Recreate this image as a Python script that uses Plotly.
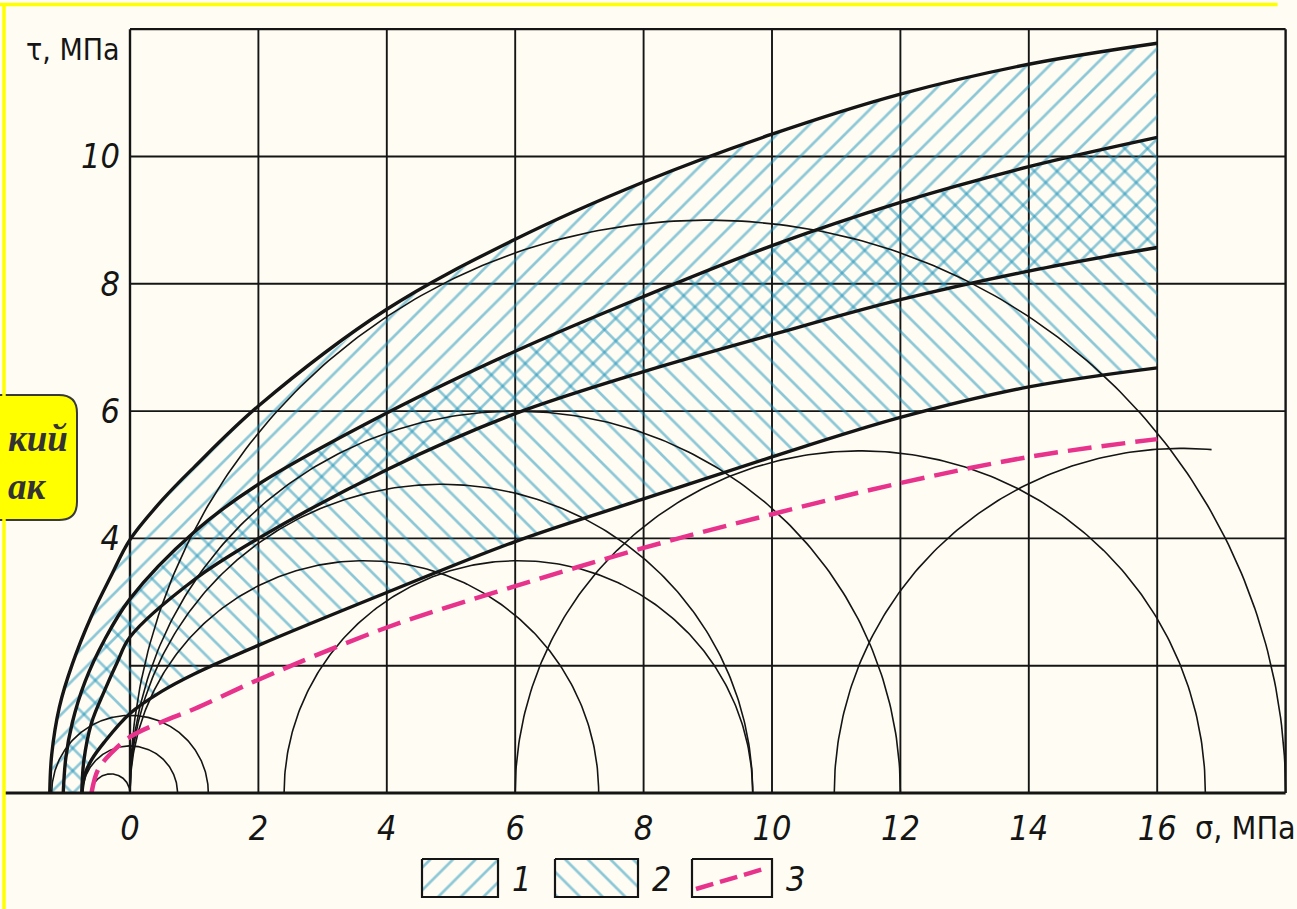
import numpy as np
import plotly.graph_objects as go

# ---------------- data ----------------
# Envelope curves (thick black), sigma (MPa) vs tau (MPa)
env1_x = [-1.25, -1.22, -1.1, -0.9, -0.6, -0.3, 0, 0.5, 1, 2, 4, 6, 8, 10, 12, 14, 16]
env1_y = [0, 0.6, 1.35, 2.02, 2.78, 3.4, 3.98, 4.6, 5.12, 6.08, 7.6, 8.7, 9.6, 10.35, 10.98, 11.45, 11.78]

env2_x = [-1.04, -1.0, -0.9, -0.7, -0.4, 0, 1, 2, 4, 6, 8, 10, 12, 14, 16]
env2_y = [0, 0.55, 1.1, 1.75, 2.4, 3.05, 4.1, 4.85, 5.97, 6.94, 7.8, 8.6, 9.28, 9.84, 10.3]

env3_x = [-0.75, -0.72, -0.6, -0.4, -0.2, 0, 1, 2, 4, 6, 8, 10, 12, 14, 16]
env3_y = [0, 0.5, 1.1, 1.6, 2.05, 2.45, 3.35, 4.0, 5.08, 5.96, 6.62, 7.2, 7.75, 8.2, 8.57]

env4_x = [-0.75, -0.7, -0.6, -0.4, 0, 0.5, 1, 2, 4, 6, 8, 10, 12, 14, 16]
env4_y = [0, 0.3, 0.52, 0.8, 1.25, 1.6, 1.87, 2.32, 3.15, 3.95, 4.62, 5.28, 5.9, 6.38, 6.68]

# Curve 3 (pink dashed)
c3_x = [-0.6, -0.5, -0.3, 0, 0.5, 1, 2, 4, 6, 8, 10, 12, 14, 16]
c3_y = [0, 0.36, 0.62, 0.88, 1.12, 1.32, 1.78, 2.6, 3.25, 3.85, 4.38, 4.87, 5.28, 5.56]

# Mohr circles: sigma3 (left end), sigma1 (right end), drawn up to sigma_cut
circle_s3 = [-0.6, -0.74, -1.22, 0, 0, 2.4, 0, 0, 6.0, 10.97]
circle_s1 = [0, 0.74, 1.22, 7.3, 9.7, 9.7, 12, 18, 16.75, 21.8]
circle_cut = [None, None, None, None, None, None, None, None, None, 16.85]

x_ticks = [0, 2, 4, 6, 8, 10, 12, 14, 16]
y_ticks = [4, 6, 8, 10]
x_grid = [0, 2, 4, 6, 8, 10, 12, 14, 16, 18]
y_grid = [2, 4, 6, 8, 10, 12]
legend_labels = ["1", "2", "3"]

# ---------------- layout geometry ----------------
W, H = 1297, 909
PX0, SX = 130.0, 64.2      # pixel of sigma=0, px per MPa
PY0, SY = 793.0, 63.65     # pixel of tau=0, px per MPa
XR = [-1.95, 18.1]
YR = [-0.06, 12.08]
xdom = [(PX0 + SX * XR[0]) / W, (PX0 + SX * XR[1]) / W]
ydom = [(H - (PY0 - SY * YR[0])) / H, (H - (PY0 - SY * YR[1])) / H]

BG = "#fffdf3"
HATCH = "#1a92bb"
PINK = "#e8338c"
BLACK = "#151515"
NUMFONT = "Liberation Sans Narrow, DejaVu Sans Condensed, Liberation Sans, sans-serif"

fig = go.Figure()

# hatched regions (1: between envelopes 1 and 3, 2: between envelopes 2 and 4)
reg1_x = env1_x + env3_x[::-1]
reg1_y = env1_y + env3_y[::-1]
reg2_x = env2_x + env4_x[::-1]
reg2_y = env2_y + env4_y[::-1]
for rx, ry, shp in [(reg1_x, reg1_y, "/"), (reg2_x, reg2_y, "\\")]:
    fig.add_trace(go.Scatter(
        x=rx, y=ry, mode="lines", fill="toself", line=dict(width=0, color="rgba(0,0,0,0)"),
        fillcolor="rgba(0,0,0,0)",
        fillpattern=dict(shape=shp, fgcolor=HATCH, bgcolor="rgba(0,0,0,0)", size=16, solidity=0.17),
        hoverinfo="skip", showlegend=False))

# Mohr circles
for s3, s1, cut in zip(circle_s3, circle_s1, circle_cut):
    c = (s1 + s3) / 2.0
    r = (s1 - s3) / 2.0
    t = np.linspace(np.pi, 0, 240)
    xs = c + r * np.cos(t)
    ys = r * np.sin(t)
    if cut is not None:
        m = xs <= cut
        xs, ys = xs[m], ys[m]
    fig.add_trace(go.Scatter(x=xs, y=ys, mode="lines", line=dict(color=BLACK, width=1.6),
                             hoverinfo="skip", showlegend=False))

# envelopes
for ex, ey in [(env1_x, env1_y), (env2_x, env2_y), (env3_x, env3_y), (env4_x, env4_y)]:
    fig.add_trace(go.Scatter(x=ex, y=ey, mode="lines", line=dict(color=BLACK, width=3.4, shape="spline", smoothing=1.0),
                             hoverinfo="skip", showlegend=False))

# curve 3
fig.add_trace(go.Scatter(x=c3_x, y=c3_y, mode="lines",
                         line=dict(color=PINK, width=4.5, dash="24px,10px", shape="spline", smoothing=1.0),
                         hoverinfo="skip", showlegend=False))

# ---------------- legend (pixel axes x2/y2) ----------------
leg_boxes = [(422, 859, 498, 897), (555, 859, 638, 897), (692, 859, 772, 897)]
for (x0, y0, x1, y1), shp in zip(leg_boxes[:2], ["/", "\\"]):
    fig.add_trace(go.Scatter(
        x=[x0, x1, x1, x0, x0], y=[y0, y0, y1, y1, y0], xaxis="x2", yaxis="y2",
        mode="lines", fill="toself", line=dict(color=BLACK, width=2.2), fillcolor="rgba(0,0,0,0)",
        fillpattern=dict(shape=shp, fgcolor=HATCH, bgcolor="rgba(0,0,0,0)", size=16, solidity=0.17),
        hoverinfo="skip", showlegend=False))
x0, y0, x1, y1 = leg_boxes[2]
fig.add_trace(go.Scatter(x=[x0, x1, x1, x0, x0], y=[y0, y0, y1, y1, y0], xaxis="x2", yaxis="y2",
                         mode="lines", line=dict(color=BLACK, width=2.2), hoverinfo="skip", showlegend=False))
fig.add_trace(go.Scatter(x=[x0 + 4, x1 - 5], y=[y1 - 8, y0 + 9], xaxis="x2", yaxis="y2", mode="lines",
                         line=dict(color=PINK, width=4.5, dash="18px,7px"), hoverinfo="skip", showlegend=False))

annotations = []
for (bx0, by0, bx1, by1), lab in zip(leg_boxes, legend_labels):
    annotations.append(dict(x=bx1 + 12, y=(by0 + by1) / 2 + 1, xref="x2", yref="y2", text=lab,
                            showarrow=False, xanchor="left", yanchor="middle",
                            font=dict(family=NUMFONT, size=34, color=BLACK, style="italic")))

# axis titles
annotations.append(dict(x=0, y=11.68, xref="x", yref="y", text="τ, МПа", showarrow=False,
                        xanchor="right", yanchor="middle", xshift=-8,
                        font=dict(family=NUMFONT, size=30, color=BLACK)))
annotations.append(dict(x=16.55, y=0, xref="x", yref="y", text="σ, МПа", showarrow=False,
                        xanchor="left", yanchor="top", yshift=-14,
                        font=dict(family=NUMFONT, size=32, color=BLACK)))

# yellow overlay box fragment
annotations.append(dict(x=6, y=438, xref="x2", yref="y2", text="<b><i>кий</i></b>", showarrow=False,
                        xanchor="left", yanchor="middle",
                        font=dict(family="Liberation Serif, DejaVu Serif, serif", size=37, color="#333333")))
annotations.append(dict(x=6, y=486, xref="x2", yref="y2", text="<b><i>ак</i></b>", showarrow=False,
                        xanchor="left", yanchor="middle",
                        font=dict(family="Liberation Serif, DejaVu Serif, serif", size=37, color="#333333")))

shapes = []
# grid and frame
for gx in x_grid:
    shapes.append(dict(type="line", xref="x", yref="y", x0=gx, x1=gx, y0=0, y1=12,
                       line=dict(color=BLACK, width=2.4 if gx in (0, 18) else 1.9), layer="below"))
for gy in y_grid:
    shapes.append(dict(type="line", xref="x", yref="y", x0=0, x1=18, y0=gy, y1=gy,
                       line=dict(color=BLACK, width=2.2 if gy == 12 else 1.9), layer="below"))
shapes.append(dict(type="line", xref="x", yref="y", x0=XR[0], x1=18, y0=0, y1=0,
                   line=dict(color=BLACK, width=3.2), layer="above"))
# yellow rounded box (pixel coords)
bx0, by0, bx1, by1, rr = -40, 395, 77, 520, 18
path = (f"M {bx0},{by0} L {bx1-rr},{by0} Q {bx1},{by0} {bx1},{by0+rr} "
        f"L {bx1},{by1-rr} Q {bx1},{by1} {bx1-rr},{by1} L {bx0},{by1} Z")
shapes.append(dict(type="path", xref="x2", yref="y2", path=path, fillcolor="#ffff00",
                   line=dict(color="#3a3a3a", width=2), layer="above"))
# outer yellow border of the slide
shapes.append(dict(type="line", xref="paper", yref="paper", x0=0, x1=0.985, y0=1 - 4.5 / H, y1=1 - 4.5 / H,
                   line=dict(color="#ffff00", width=3.5)))
shapes.append(dict(type="line", xref="paper", yref="paper", x0=4 / W, x1=4 / W, y0=0, y1=1 - 4.5 / H,
                   line=dict(color="#ffff00", width=3.5)))

fig.update_layout(
    width=W, height=H, autosize=False,
    margin=dict(l=0, r=0, t=0, b=0),
    paper_bgcolor=BG, plot_bgcolor="rgba(0,0,0,0)",
    showlegend=False,
    xaxis=dict(domain=xdom, range=XR, showgrid=False, zeroline=False, showline=False,
               tickmode="array", tickvals=x_ticks, ticktext=[str(v) for v in x_ticks], ticks="",
               ticklabelstandoff=8,
               tickfont=dict(family=NUMFONT, size=34, color=BLACK, style="italic")),
    yaxis=dict(domain=ydom, range=YR, showgrid=False, zeroline=False, showline=False,
               anchor="free", position=PX0 / W,
               tickmode="array", tickvals=y_ticks, ticktext=[str(v) for v in y_ticks], ticks="",
               ticklabelstandoff=10,
               tickfont=dict(family=NUMFONT, size=34, color=BLACK, style="italic")),
    xaxis2=dict(domain=[0, 1], range=[0, W], visible=False, anchor="y2"),
    yaxis2=dict(domain=[0, 1], range=[H, 0], visible=False, anchor="x2"),
    annotations=annotations,
    shapes=shapes,
)

fig.write_html("out.html", config={"displayModeBar": False},
               post_script="document.body.style.margin='0';document.body.style.overflow='hidden';")
